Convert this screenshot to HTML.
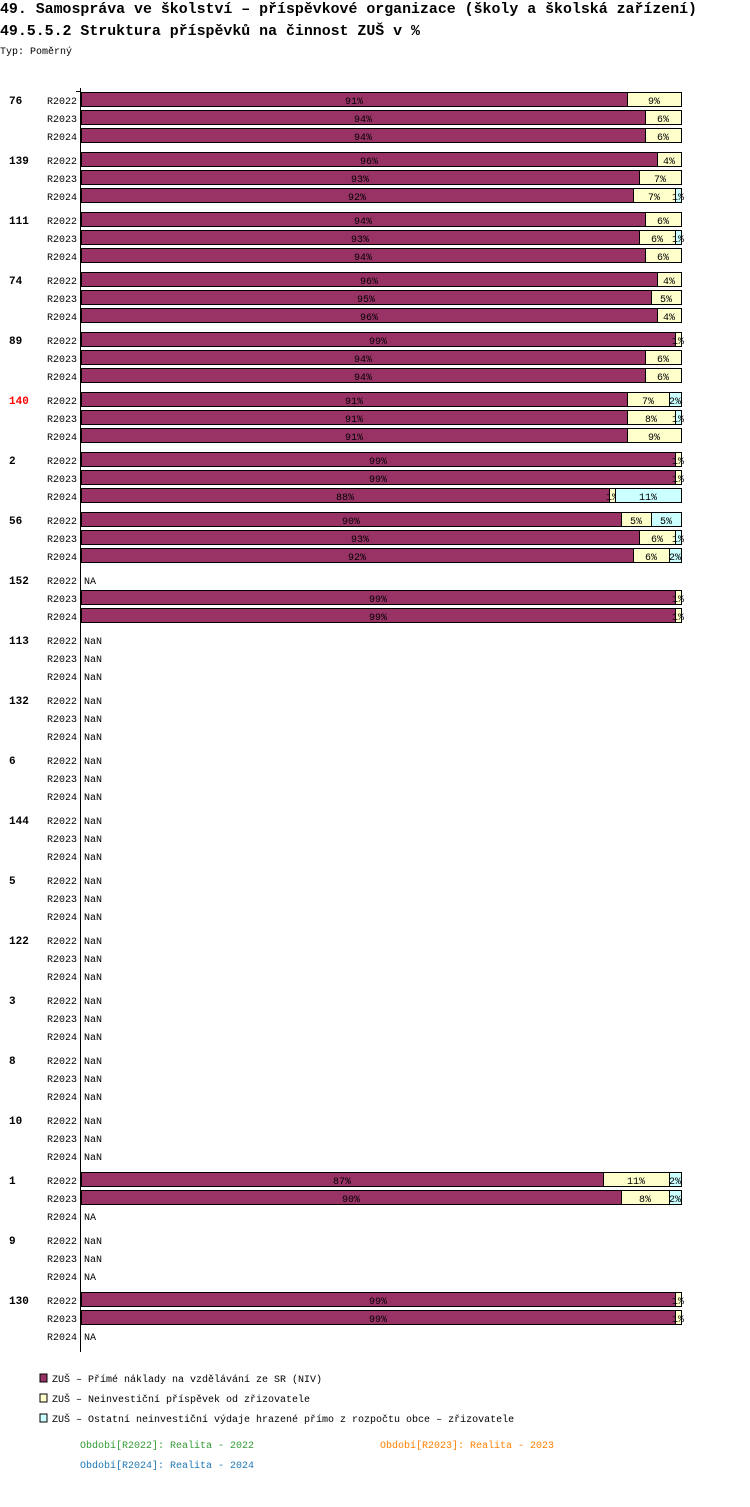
<!DOCTYPE html>
<html><head><meta charset="utf-8"><style>
body{margin:0;background:#fff;width:750px;height:1502px;overflow:hidden;font-family:"Liberation Mono",monospace}
svg text{font-family:"Liberation Mono","DejaVu Sans Mono",monospace}
</style></head><body>
<svg id="c" width="750" height="1502" xmlns="http://www.w3.org/2000/svg">
<text x="0" y="13" font-size="14.9" font-weight="600">49. Samospráva ve školství – příspěvkové organizace (školy a školská zařízení)</text>
<text x="0" y="35" font-size="14.9" font-weight="600">49.5.5.2 Struktura příspěvků na činnost ZUŠ v %</text>
<text x="0" y="54" font-size="10">Typ: Poměrný</text>
<line x1="80.5" y1="88" x2="80.5" y2="1352" stroke="#000"/>
<line x1="76" y1="91.5" x2="81" y2="91.5" stroke="#000"/>
<g id="bars"></g>
<rect x="40" y="1374" width="7" height="8" fill="#993366" stroke="#000"/>
<text x="52" y="1382" font-size="10">ZUŠ – Přímé náklady na vzdělávání ze SR (NIV)</text>
<rect x="40" y="1394" width="7" height="8" fill="#ffffcc" stroke="#000"/>
<text x="52" y="1402" font-size="10">ZUŠ – Neinvestiční příspěvek od zřizovatele</text>
<rect x="40" y="1414" width="7" height="8" fill="#ccffff" stroke="#000"/>
<text x="52" y="1422" font-size="10">ZUŠ – Ostatní neinvestiční výdaje hrazené přímo z rozpočtu obce – zřizovatele</text>
<text x="80" y="1448" font-size="10" fill="#339933">Období[R2022]: Realita - 2022</text>
<text x="380" y="1448" font-size="10" fill="#ff8000">Období[R2023]: Realita - 2023</text>
<text x="80" y="1468" font-size="10" fill="#1f77b4">Období[R2024]: Realita - 2024</text>
</svg>
<script>
const groups=["76","139","111","74","89","140","2","56","152","113","132","6","144","5","122","3","8","10","1","9","130"];
const periods=["R2022","R2023","R2024"];
const seriesNIV=[[91,94,94],[96,93,92],[94,93,94],[96,95,96],[99,94,94],[91,91,91],[99,99,88],[90,93,92],["NA",99,99],
"NaN","NaN","NaN","NaN","NaN","NaN","NaN","NaN","NaN",[87,90,"NA"],["NaN","NaN","NA"],[99,99,"NA"]];
const seriesPrispevek=[[9,6,6],[4,7,7],[6,6,6],[4,5,4],[1,6,6],[7,8,9],[1,1,1],[5,6,6],[0,1,1],
0,0,0,0,0,0,0,0,0,[11,8,0],[0,0,0],[1,1,0]];
const seriesOstatni=[[0,0,0],[0,0,1],[0,1,0],[0,0,0],[0,0,0],[2,1,0],[0,0,11],[5,1,2],[0,0,0],
0,0,0,0,0,0,0,0,0,[2,2,0],[0,0,0],[0,0,0]];
const highlight="140";
const NS="http://www.w3.org/2000/svg";
const g=document.getElementById('bars');
const x0=81,W=600;
const xs=v=>W*v/100;
const rowY=(gi,pi)=>100+gi*60+pi*18;
function el(t,a,txt){const e=document.createElementNS(NS,t);for(const k in a)e.setAttribute(k,a[k]);if(txt!=null)e.textContent=txt;g.appendChild(e);return e;}
const colors=["#993366","#ffffcc","#ccffff"];
groups.forEach((gn,gi)=>{
  const gl=el('text',{x:9,y:rowY(gi,0)+4,'font-size':11,'font-weight':'bold',fill:gn===highlight?'#ff0000':'#000'},gn);
  
  
  periods.forEach((p,pi)=>{
    const y=rowY(gi,pi);
    const pl=el('text',{x:47,y:y+4,'font-size':10},p);
    
    
    const a=seriesNIV[gi];
    const v0=Array.isArray(a)?a[pi]:a;
    if(typeof v0==='string'){
      const t=el('text',{x:84,y:y+4,'font-size':10},v0);
      
      
      return;
    }
    const vals=[v0,seriesPrispevek[gi][pi],seriesOstatni[gi][pi]];
    let cx=x0;
    vals.forEach((v,si)=>{
      if(!v)return;
      const w=xs(v);
      const r=el('rect',{x:cx+0.5,y:y-7.5,width:w,height:14,fill:colors[si],stroke:'#000'});
      
      
      const t=el('text',{x:cx+w/2,y:y+4,'font-size':10,'text-anchor':'middle'},v+'%');
      
      
      cx+=w;
    });
  });
});
</script>
</body></html>
